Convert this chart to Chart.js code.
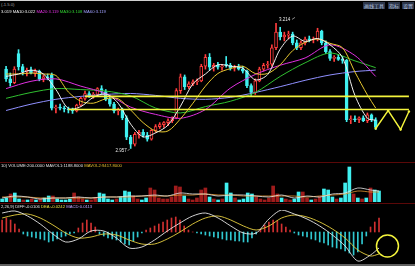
<!DOCTYPE html>
<html>
<head>
<meta charset="utf-8">
<script src="https://cdn.jsdelivr.net/npm/chart.js@4"></script>
<style>
  body { margin: 0; background: #000; width: 415px; height: 266px; overflow: hidden; position: relative; font-family: "Liberation Sans", sans-serif; }
  canvas { position: absolute; left: 0; }
  .hd { position: absolute; left: 1px; font-size: 8.4px; white-space: nowrap; color: #e0e0e0; transform: scale(0.5); transform-origin: left top; line-height: 10px; }
  .btn { position: absolute; top: 2px; height: 14px; background: #2c3548; color: #b8c8e0; font-family: "Noto Sans CJK SC", sans-serif; font-size: 10px; line-height: 14px; padding: 0 2px; white-space: nowrap; transform: scale(0.5); transform-origin: left top; }
  .sep { position: absolute; left: 0; width: 415px; height: 1px; background: #5a0808; }
</style>
</head>
<body>
<div style="position:absolute;left:0;top:0;width:415px;height:1px;background:#d0d0d0"></div>
<div class="hd" style="top:2px;color:#a0a0a0">(-1.5.0)</div>
<div class="btn" style="left:363px">画线工具</div>
<div class="btn" style="left:388px">指标</div>
<div class="btn" style="left:402px">设置</div>

<canvas id="price" width="415" height="152" style="top:8px"></canvas>
<canvas id="vol" width="415" height="39" style="top:163px"></canvas>
<canvas id="macd" width="415" height="53" style="top:210px"></canvas>

<div class="sep" style="top:162px"></div>
<div class="sep" style="top:203px"></div>
<div style="position:absolute;left:0;top:264px;width:415px;height:2px;background:#606060"></div>

<div class="hd" style="top:9px"><span style="color:#f0f0f0">3.019 MA10:3.022</span> <span style="color:#e030e0">MA20:3.119</span> <span style="color:#30d030">MA30:3.108</span> <span style="color:#a0a0ff">MA60:3.119</span></div>
<div class="hd" style="top:163px">10) VOLUME:200.0000 MAVOL1:1188.8000 <span style="color:#e8c030">MAVOL2:9417.8000</span></div>
<div class="hd" style="top:204px">2,26,9) DIFF:-0.0106 <span style="color:#e8e040">DEA:-0.0242</span> <span style="color:#c0a0ff">MACD:0.0113</span></div>

<script>
// daily candles
const opens  = [3.120,3.100,3.092,3.152,3.125,3.115,3.118,3.112,3.116,3.100,3.104,3.108,3.040,3.042,3.040,3.038,3.036,3.034,3.046,3.060,
                3.070,3.066,3.068,3.080,3.074,3.058,3.048,3.034,3.036,3.020,2.980,2.966,2.986,2.990,2.984,2.976,2.994,3.002,3.006,3.010,
                3.014,3.020,3.076,3.104,3.084,3.090,3.094,3.096,3.126,3.144,3.124,3.128,3.124,3.130,3.128,3.122,3.124,3.120,3.116,3.086,
                3.072,3.096,3.120,3.128,3.130,3.164,3.196,3.186,3.190,3.192,3.174,3.164,3.174,3.182,3.180,3.182,3.198,3.174,3.156,3.142,
                3.144,3.140,3.138,3.016,3.018,3.016,3.020,3.014,3.026,3.016];
const highs  = [3.126,3.112,3.125,3.160,3.130,3.122,3.124,3.120,3.118,3.108,3.110,3.112,3.046,3.048,3.044,3.042,3.040,3.048,3.062,3.075,
                3.074,3.072,3.082,3.086,3.078,3.062,3.052,3.040,3.040,3.024,2.984,2.990,2.994,2.996,2.990,2.996,3.006,3.010,3.012,3.018,
                3.022,3.080,3.110,3.108,3.094,3.098,3.100,3.130,3.150,3.152,3.132,3.134,3.130,3.146,3.132,3.128,3.130,3.126,3.118,3.090,
                3.100,3.124,3.132,3.136,3.170,3.214,3.206,3.196,3.198,3.196,3.180,3.178,3.186,3.188,3.186,3.204,3.200,3.178,3.160,3.148,
                3.150,3.146,3.140,3.024,3.024,3.022,3.024,3.030,3.028,3.020];
const lows   = [3.095,3.085,3.090,3.118,3.108,3.106,3.110,3.105,3.096,3.094,3.098,3.036,3.030,3.036,3.032,3.030,3.029,3.032,3.044,3.056,
                3.062,3.060,3.064,3.070,3.055,3.044,3.030,3.026,3.016,2.975,2.957,2.962,2.978,2.980,2.972,2.974,2.990,2.998,3.000,3.004,
                3.010,3.018,3.070,3.078,3.080,3.086,3.088,3.094,3.120,3.118,3.116,3.120,3.118,3.124,3.118,3.116,3.118,3.112,3.082,3.066,
                3.068,3.094,3.116,3.122,3.126,3.160,3.180,3.178,3.182,3.170,3.160,3.160,3.170,3.176,3.174,3.178,3.170,3.152,3.138,3.136,
                3.138,3.132,3.012,3.008,3.012,3.010,3.012,3.010,3.012,2.996];
const closes = [3.100,3.092,3.120,3.125,3.115,3.118,3.112,3.116,3.100,3.104,3.102,3.040,3.042,3.040,3.038,3.036,3.034,3.046,3.060,3.070,
                3.066,3.068,3.080,3.074,3.058,3.048,3.034,3.036,3.020,2.980,2.966,2.986,2.990,2.984,2.976,2.994,3.002,3.006,3.010,3.014,
                3.018,3.076,3.104,3.084,3.090,3.094,3.096,3.126,3.144,3.124,3.128,3.124,3.126,3.128,3.122,3.124,3.120,3.116,3.086,3.072,
                3.096,3.120,3.128,3.130,3.164,3.196,3.186,3.190,3.192,3.174,3.164,3.174,3.182,3.180,3.182,3.198,3.174,3.156,3.142,3.144,
                3.140,3.138,3.016,3.018,3.016,3.020,3.014,3.026,3.016,3.000];

// moving averages, read at every 3rd / 6th day
const maShortIdx = [0,3,6,9,12,15,18,21,24,27,30,33,36,39,42,45,48,51,54,57,60,63,66,69,72,75,78,81,84,87,89];
const ma5  = [3.105,3.110,3.118,3.110,3.078,3.039,3.043,3.062,3.069,3.050,3.007,2.981,2.989,3.005,3.044,3.090,3.110,3.129,3.126,3.122,3.098,3.109,3.161,3.188,3.177,3.183,3.170,3.144,3.066,3.019,3.015];
const ma10 = [3.110,3.110,3.112,3.110,3.107,3.073,3.054,3.050,3.059,3.059,3.036,3.010,2.993,2.993,3.018,3.050,3.085,3.111,3.121,3.126,3.111,3.111,3.129,3.158,3.175,3.182,3.173,3.164,3.114,3.067,3.040];
const maLongIdx = [0,6,12,18,24,30,36,42,48,54,60,66,72,78,84,89];
const ma20 = [3.080,3.095,3.100,3.085,3.070,3.042,3.027,3.019,3.037,3.081,3.109,3.128,3.143,3.170,3.148,3.105];
const ma30 = [3.060,3.072,3.080,3.078,3.075,3.065,3.040,3.030,3.043,3.054,3.072,3.105,3.133,3.153,3.137,3.123];
const ma60 = [3.035,3.048,3.058,3.064,3.068,3.070,3.066,3.060,3.058,3.062,3.072,3.084,3.097,3.108,3.115,3.118];

// hand-drawn support lines and projected zigzag
const supportLevels = [3.064, 3.037];
const supportFrom = [19, 15];
const projIdx = [89, 92, 95, 97];
const projVals = [2.998, 3.035, 2.996, 3.033];

// volume
const volumes = [1500,2000,4000,4500,1500,1000,1000,1500,1000,1500, 2000,3000,3000,1500,1000,1000,1500,4500,2500,1500,
                 1000,1000,2000,4500,4000,1500,1000,1500,2500,5500, 5000,3000,1500,1000,2000,7000,6000,2000,1500,1500,
                 2500,8000,7500,3000,1500,1000,2000,6000,7000,2500, 1500,1000,1500,9500,4500,2000,1000,1500,4500,4000,
                 2500,1500,1000,2000,8000,4000,2000,1500,1000,1500, 5000,5000,2000,1000,1500,2500,6500,6000,2500,1500,
                 2000,9500,17500,4000,2000,1500,2000,7000,6000,5500];
const mavol1 = [2000,3000,2500,1500,2000,2000,2500,2000,2500,2500,3000,3000,3500,3000,4500,4000,4000,3000,3500,3500,3000,2500,3500,2000,3000,2500,4000,4500,7000,6000,5500];
const mavol2 = [2500,2500,2500,2000,2000,2000,2000,2000,2500,2500,2500,3000,3000,3000,3500,3500,4000,3500,3500,3000,3000,3000,3000,3000,2500,3000,3500,4000,5500,5000,5000];

// MACD
const macdHist = [0.012,0.014,0.012,0.008,0.003,
  -0.002,-0.004,-0.005,-0.006,-0.007,-0.008,-0.010,-0.009,-0.007,-0.005,-0.004,-0.002,-0.001,
  0.004,0.009,0.012,0.009,0.005,
  -0.002,-0.004,-0.006,-0.007,-0.008,-0.010,-0.012,-0.013,-0.009,-0.005,-0.001,
  0.002,0.004,0.006,0.008,0.010,0.012,0.014,0.015,0.012,0.006,0.002,
  0.000,-0.001,-0.002,-0.003,-0.004,-0.005,-0.006,-0.007,-0.008,-0.008,-0.009,-0.009,-0.010,-0.010,-0.006,-0.002,
  0.003,0.007,0.010,0.012,0.011,0.008,0.005,0.002,
  -0.001,-0.003,-0.004,-0.005,-0.007,-0.008,-0.010,-0.011,-0.013,-0.015,-0.016,-0.017,-0.019,-0.021,-0.023,-0.020,-0.012,-0.004,
  0.005,0.010,0.014];
const diff = [0.019,0.021,0.016,0.008,-0.002,-0.010,-0.007,0.001,0.001,-0.006,-0.016,-0.015,-0.008,0.001,0.009,0.016,0.019,0.014,0.006,-0.001,-0.001,0.013,0.022,0.018,0.013,0.006,-0.003,-0.014,-0.029,-0.023,-0.016];
const dea  = [0.014,0.017,0.018,0.014,0.007,-0.001,-0.006,-0.005,-0.002,-0.003,-0.008,-0.012,-0.012,-0.007,0.000,0.008,0.014,0.016,0.012,0.006,0.002,0.006,0.014,0.017,0.015,0.010,0.003,-0.006,-0.018,-0.024,-0.022];
const circleMark = { index: 91, value: -0.014 };

const labels = Array.from({ length: 98 }, (_, i) => String(i + 1));
const UP = '#ff3c3c', DOWN = '#40f0f0', YEL = '#f4f43c';
const isUp = closes.map((c, i) => c >= opens[i]);

function spread(idx, vals) {
  const out = labels.map(() => null);
  idx.forEach((k, j) => { out[k] = vals[j]; });
  return out;
}
function lineDs(data, color, width, tension) {
  return { type: 'line', data, borderColor: color, borderWidth: width || 1, pointRadius: 0,
           spanGaps: true, tension: tension === undefined ? 0.3 : tension };
}
function baseOptions(min, max) {
  return {
    animation: false, responsive: false,
    layout: { padding: 0 },
    plugins: { legend: { display: false }, tooltip: { enabled: false } },
    scales: {
      x: { display: false, offset: true },
      y: { display: false, min, max }
    }
  };
}

// max/min price labels
const extremeLabels = {
  id: 'extremeLabels',
  afterDatasetsDraw(chart) {
    const { ctx, scales: { x, y } } = chart;
    const hi = highs.indexOf(Math.max(...highs));
    const lo = lows.indexOf(Math.min(...lows));
    ctx.save();
    ctx.font = '4.5px "Liberation Sans"';
    ctx.fillStyle = '#e8e8e8';
    ctx.strokeStyle = '#e8e8e8';
    ctx.lineWidth = 0.6;
    ctx.textBaseline = 'middle';
    let px = x.getPixelForValue(hi), py = y.getPixelForValue(highs[hi]);
    ctx.textAlign = 'left';
    ctx.fillText(highs[hi].toFixed(3), px + 3, py - 4);
    ctx.beginPath(); ctx.moveTo(px + 16, py - 4); ctx.lineTo(px + 19, py - 6); ctx.stroke();
    px = x.getPixelForValue(lo); py = y.getPixelForValue(lows[lo]);
    ctx.textAlign = 'right';
    ctx.fillText(lows[lo].toFixed(3), px - 4, py + 2);
    ctx.beginPath(); ctx.moveTo(px - 3, py + 2); ctx.lineTo(px - 1, py + 1); ctx.stroke();
    ctx.restore();
  }
};

new Chart(document.getElementById('price'), {
  type: 'bar',
  data: {
    labels,
    datasets: [
      ...supportLevels.map((v, k) => lineDs(labels.map((_, i) => i >= supportFrom[k] ? v : null), YEL, 1.6, 0)),
      { type: 'line', data: spread(projIdx, projVals), borderColor: YEL, borderWidth: 1.4, tension: 0,
        spanGaps: true, pointRadius: 1.2, pointBackgroundColor: YEL, pointBorderWidth: 0 },
      lineDs(spread(maShortIdx, ma5), '#f0f0f0'),
      lineDs(spread(maShortIdx, ma10), '#e8c830'),
      lineDs(spread(maLongIdx, ma20), '#e030e0'),
      lineDs(spread(maLongIdx, ma30), '#30c030'),
      lineDs(spread(maLongIdx, ma60), '#9090ff'),
      { data: opens.map((o, i) => [o, closes[i]]), grouped: false, barThickness: 3, minBarLength: 1,
        backgroundColor: isUp.map(u => u ? '#000' : DOWN), borderColor: isUp.map(u => u ? UP : DOWN),
        borderWidth: 1, borderSkipped: false },
      { data: lows.map((l, i) => [l, highs[i]]), grouped: false, barThickness: 1,
        backgroundColor: isUp.map(u => u ? UP : DOWN) }
    ]
  },
  options: baseOptions(2.9415, 3.2374),
  plugins: [extremeLabels]
});

new Chart(document.getElementById('vol'), {
  type: 'bar',
  data: {
    labels,
    datasets: [
      lineDs(spread(maShortIdx, mavol1), '#e8e8e8', 0.8),
      lineDs(spread(maShortIdx, mavol2), '#e89830', 0.8),
      { data: volumes, grouped: false, barThickness: 3,
        backgroundColor: isUp.map(u => u ? '#a01c1c' : DOWN), borderWidth: 0 }
    ]
  },
  options: baseOptions(0, 19500)
});

const circlePlugin = {
  id: 'circleMark',
  afterDatasetsDraw(chart) {
    const { ctx, scales: { x, y } } = chart;
    ctx.save();
    ctx.beginPath();
    ctx.arc(x.getPixelForValue(circleMark.index), y.getPixelForValue(circleMark.value), 11, 0, Math.PI * 2);
    ctx.strokeStyle = YEL;
    ctx.lineWidth = 1.5;
    ctx.stroke();
    ctx.restore();
  }
};

new Chart(document.getElementById('macd'), {
  type: 'bar',
  data: {
    labels,
    datasets: [
      lineDs(spread(maShortIdx, diff), '#e8e8e8', 0.9),
      lineDs(spread(maShortIdx, dea), '#e8d040', 0.9),
      { data: macdHist, grouped: false, barThickness: 1,
        backgroundColor: macdHist.map(v => v >= 0 ? '#d03030' : '#30c8d0') }
    ]
  },
  options: baseOptions(-0.031, 0.022),
  plugins: [circlePlugin]
});
</script>
</body>
</html>
